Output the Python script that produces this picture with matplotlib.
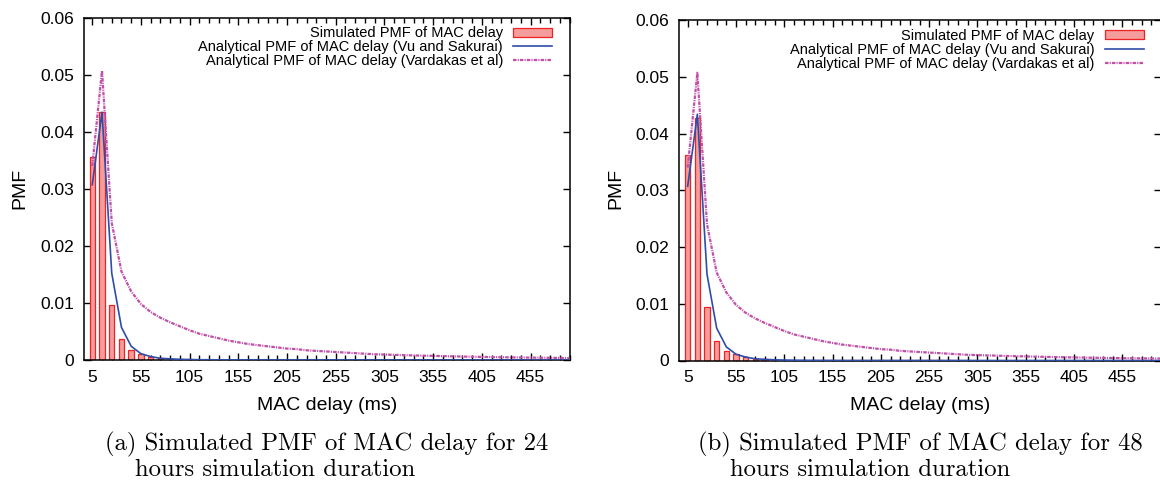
import numpy as np
import matplotlib
matplotlib.use("Agg")
import matplotlib.pyplot as plt
from matplotlib.ticker import FixedLocator, FuncFormatter

# ---- data ----
delay_ms = np.arange(5, 500, 10)  # bin centres (ms)

sim_24h = [0.0356, 0.0434, 0.0097, 0.0036, 0.0017, 0.0011, 0.0006, 0.0003, 0.0002, 0.0001,
           0.0001, 0.00005, 0.00004, 0.00003, 0.00002, 0.00002, 0.00001, 0.00001, 0.00001, 0.00001,
           0.00001, 0.00001, 0.00001, 0.00001, 0.00001, 0.00002, 0.00008, 0.00008, 0.0, 0.0,
           0.0, 0.0, 0.0, 0.0, 0.0, 0.0, 0.0, 0.0, 0.0, 0.0,
           0.0, 0.0, 0.0, 0.0, 0.0, 0.0, 0.0, 0.0, 0.0, 0.0]

sim_48h = [0.0362, 0.0427, 0.0095, 0.0035, 0.0017, 0.0011, 0.0006, 0.0003, 0.0002, 0.0001,
           0.0001, 0.00005, 0.00004, 0.00003, 0.00002, 0.00002, 0.00001, 0.00001, 0.00001, 0.00001,
           0.00001, 0.00001, 0.00001, 0.00001, 0.00001, 0.00002, 0.00008, 0.00008, 0.0, 0.0,
           0.0, 0.0, 0.0, 0.0, 0.0, 0.0, 0.0, 0.0, 0.0, 0.0,
           0.0, 0.0, 0.0, 0.0, 0.0, 0.0, 0.0, 0.0, 0.0, 0.0]

vu_sakurai = [0.0307, 0.0434, 0.0152, 0.0057, 0.0024, 0.0011, 0.0006, 0.0003, 0.0002, 0.00012,
              0.00008, 0.00005, 0.00004, 0.00003, 0.00002, 0.00002, 0.00001, 0.00001, 0.00001, 0.00001,
              0.00001, 0.00001, 0.00001, 0.00001, 0.00001, 0.00001, 0.00001, 0.00001, 0.00001, 0.00001,
              0.0, 0.0, 0.0, 0.0, 0.0, 0.0, 0.0, 0.0, 0.0, 0.0,
              0.0, 0.0, 0.0, 0.0, 0.0, 0.0, 0.0, 0.0, 0.0, 0.0]

vardakas = [0.0340, 0.0507, 0.0240, 0.0155, 0.0120, 0.0098, 0.0084, 0.0074, 0.0066, 0.0059,
            0.0052, 0.0046, 0.0042, 0.0038, 0.0034, 0.0031, 0.0028, 0.0026, 0.0024, 0.0022,
            0.0020, 0.0019, 0.0017, 0.0016, 0.0015, 0.0014, 0.0013, 0.0012, 0.0011, 0.0010,
            0.00095, 0.0009, 0.00085, 0.0008, 0.00076, 0.00072, 0.00068, 0.00064, 0.0006, 0.00057,
            0.00054, 0.00051, 0.00048, 0.00046, 0.00044, 0.00042, 0.0004, 0.00038, 0.00036, 0.00034]

xtick_labels = ["5", "55", "105", "155", "205", "255", "305", "355", "405", "455"]
ytick_values = [0, 0.01, 0.02, 0.03, 0.04, 0.05, 0.06]

legend_labels = ["Simulated PMF of MAC delay",
                 "Analytical PMF of MAC delay (Vu and Sakurai)",
                 "Analytical PMF of MAC delay (Vardakas et al)"]
captions = [("(a) Simulated PMF of MAC delay for 24", "hours simulation duration"),
            ("(b) Simulated PMF of MAC delay for 48", "hours simulation duration")]

# ---- style ----
plt.rcParams['font.family'] = ['Liberation Sans', 'DejaVu Sans']
W, H = 1160, 484
fig = plt.figure(figsize=(W / 100, H / 100), dpi=100)

BAR_FACE = "#F59C9C"
BAR_EDGE = "#EE2222"
BLUE = "#2D4DA8"
MAGENTA = "#C24FA8"

def px_axes(left, right, top, bottom):
    return [left / W, (H - bottom) / H, (right - left) / W, (bottom - top) / H]

panels = [
    dict(rect=px_axes(83.5, 569.5, 17.5, 360.0), sim=sim_24h, cap=captions[0],
         xl=327, yl=19.5, capx=(105, 135)),
    dict(rect=px_axes(679.0, 1161.0, 20.0, 360.5), sim=sim_48h, cap=captions[1],
         xl=920, yl=616, capx=(698, 730)),
]

for p in panels:
    ax = fig.add_axes(p["rect"])
    hb = ax.bar(delay_ms, p["sim"], width=5.6, color=BAR_FACE, edgecolor=BAR_EDGE,
                linewidth=0.9, label=legend_labels[0], zorder=2)
    hv, = ax.plot(delay_ms, vu_sakurai, color=BLUE, lw=1.2, label=legend_labels[1], zorder=3)
    hd, = ax.plot(delay_ms, vardakas, color=MAGENTA, lw=1.6, ls=(0, (1.6, 0.5, 0.5, 0.5)),
                  label=legend_labels[2], zorder=3)
    ax.set_xlim(-4, 495)
    ax.set_ylim(0, 0.06)

    major_x = [int(t) for t in xtick_labels]
    ax.xaxis.set_major_locator(FixedLocator(major_x))
    ax.set_xticklabels(xtick_labels)
    ax.xaxis.set_minor_locator(FixedLocator([v for v in delay_ms if v not in major_x]))
    ax.yaxis.set_major_locator(FixedLocator(ytick_values))
    ax.yaxis.set_major_formatter(FuncFormatter(lambda v, pos: "0" if v == 0 else f"{v:.2f}"))
    ax.tick_params(which='both', direction='in', top=True, right=True, width=1.0, colors='black',
                   labelsize=12.5)
    ax.tick_params(which='major', length=5, pad=7)
    ax.tick_params(which='minor', length=3.5)
    for s in ax.spines.values():
        s.set_linewidth(1.1)

    ax.legend([hb, hv, hd], legend_labels, loc='upper right', bbox_to_anchor=(0.986, 1.004),
              frameon=False, markerfirst=False, fontsize=10.5, handlelength=2.7,
              handletextpad=0.7, labelspacing=0.0, borderpad=0.2, handleheight=0.6)

    fig.text(p["xl"] / W, 1 - 406 / H, "MAC delay (ms)", ha='center', va='center', fontsize=14)
    fig.text(p["yl"] / W, 1 - 188 / H, "PMF", ha='center', va='center', rotation=90, fontsize=14)
    fig.text(p["capx"][0] / W, 1 - 444 / H, p["cap"][0], ha='left', va='center',
             fontsize=17.8, family=['cmr10', 'DejaVu Serif'])
    fig.text(p["capx"][1] / W, 1 - 470 / H, p["cap"][1], ha='left', va='center',
             fontsize=17.8, family=['cmr10', 'DejaVu Serif'])

fig.savefig("out.png", dpi=100)
